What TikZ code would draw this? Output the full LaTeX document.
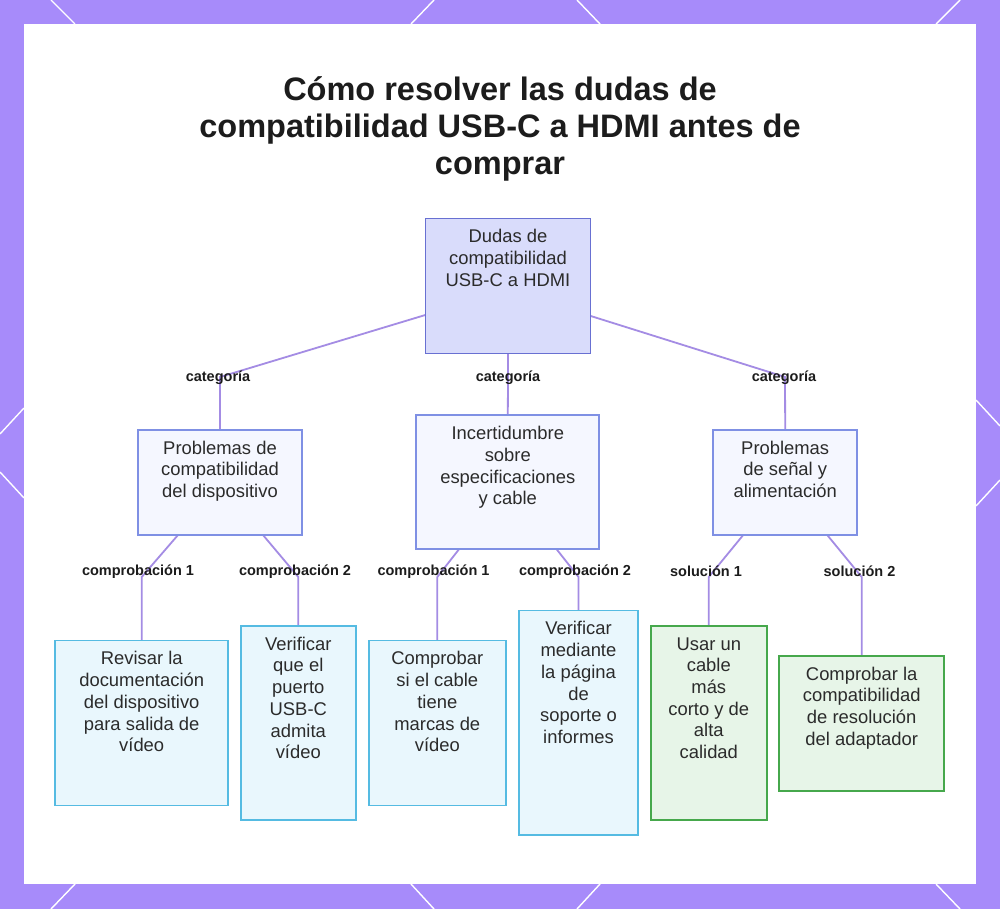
\documentclass[tikz,border=0pt]{standalone}
\usepackage{fontspec}
\setmainfont{Liberation Sans}
\usetikzlibrary{calc}
\definecolor{purp}{HTML}{A78BFA}
\definecolor{rootfill}{HTML}{D9DCFB}
\definecolor{rootdraw}{HTML}{6870D2}
\definecolor{midfill}{HTML}{F5F7FF}
\definecolor{middraw}{HTML}{7F90E4}
\definecolor{cyanfill}{HTML}{E9F7FD}
\definecolor{cyandraw}{HTML}{55BBE2}
\definecolor{greenfill}{HTML}{E7F5E8}
\definecolor{greendraw}{HTML}{46A84C}
\definecolor{linec}{HTML}{A48CE4}
\definecolor{textc}{HTML}{2B2B2B}
\definecolor{labc}{HTML}{1C1C1C}
\begin{document}
\begin{tikzpicture}[x=1pt,y=-1pt,
  box/.style={draw, line width=1.9pt, inner sep=0pt},
  rootbox/.style={box, fill=rootfill, draw=rootdraw},
  midbox/.style={box, fill=midfill, draw=middraw},
  cyanbox/.style={box, fill=cyanfill, draw=cyandraw},
  greenbox/.style={box, fill=greenfill, draw=greendraw},
  txt/.style={inner sep=0pt, align=center, anchor=north, text=textc,
    font=\fontsize{18.4}{21.7}\selectfont},
  lab/.style={inner sep=0pt, text=labc, font=\bfseries\fontsize{14.5}{17}\selectfont},
  conn/.style={draw=linec, line width=1.8pt},
  deco/.style={draw=white, line width=1.4pt},
  titlestyle/.style={inner sep=0pt, align=center, text=labc,
    font=\bfseries\fontsize{32.5}{37}\selectfont}
]
\useasboundingbox (0,0) rectangle (1000,909);
\fill[purp] (0,0) rectangle (1000,909);
% decorative lines on the border
\draw[deco] (51,0) -- (75,24);   \draw[deco] (434,0) -- (411,24);
\draw[deco] (577,0) -- (600,24); \draw[deco] (960,0) -- (936,24);
\draw[deco] (51,909) -- (75,884);   \draw[deco] (434,909) -- (411,884);
\draw[deco] (577,909) -- (600,884); \draw[deco] (960,909) -- (936,884);
\draw[deco] (0,434) -- (24,408); \draw[deco] (0,472) -- (24,498);
\draw[deco] (976,400) -- (1000,426); \draw[deco] (1000,480) -- (976,506);
\fill[white] (24,24) rectangle (976,884);

% title
\node[titlestyle] (title) at (500,128.5) {Cómo resolver las dudas de\\compatibilidad USB-C a HDMI antes de\\comprar};

% corner points of the connectors
\coordinate (kA) at (220,377);
\coordinate (kB) at (508,377);
\coordinate (kC) at (785,377);
\coordinate (kA1) at (141.7,577);
\coordinate (kA2) at (298.3,577);
\coordinate (kB1) at (437.3,577);
\coordinate (kB2) at (578.5,577);
\coordinate (kC1) at (708.8,577);
\coordinate (kC2) at (861.7,577);

% box shapes (named, used as connector ends)
\path (508,286) node[minimum width=165pt, minimum height=135pt, inner sep=0pt] (root) {};
\path (220,482.3) node[minimum width=164pt, minimum height=105pt, inner sep=0pt] (A) {};
\path (507.8,482.3) node[minimum width=183pt, minimum height=134pt, inner sep=0pt] (B) {};
\path (785.2,482.3) node[minimum width=144pt, minimum height=105pt, inner sep=0pt] (C) {};
\path (141.7,723) node[minimum width=173pt, minimum height=165pt, inner sep=0pt] (A1) {};
\path (298.3,723) node[minimum width=115.5pt, minimum height=194.5pt, inner sep=0pt] (A2) {};
\path (437.3,723) node[minimum width=137.5pt, minimum height=165pt, inner sep=0pt] (B1) {};
\path (578.5,722.7) node[minimum width=119.5pt, minimum height=224.5pt, inner sep=0pt] (B2) {};
\path (708.8,722.8) node[minimum width=115.5pt, minimum height=194.5pt, inner sep=0pt] (C1) {};
\path (861.7,723.3) node[minimum width=165pt, minimum height=135pt, inner sep=0pt] (C2) {};

% connectors
\path[conn] ([yshift=-29pt]root.west) -- (kA) -- (A.north);
\path[conn] (root.south) -- (kB) -- (B.north);
\path[conn] ([yshift=-30pt]root.east) -- (kC) -- (C.north);
\path[conn] ([xshift=-42pt]A.south) -- (kA1) -- (A1.north);
\path[conn] ([xshift=43pt]A.south) -- (kA2) -- (A2.north);
\path[conn] ([xshift=-49pt]B.south) -- (kB1) -- (B1.north);
\path[conn] ([xshift=49pt]B.south) -- (kB2) -- (B2.north);
\path[conn] ([xshift=-42pt]C.south) -- (kC1) -- (C1.north);
\path[conn] ([xshift=42pt]C.south) -- (kC2) -- (C2.north);

% visible boxes over the connector ends
\node[rootbox, minimum width=165pt, minimum height=135pt] (rootb) at (root) {};
\node[midbox, minimum width=164pt, minimum height=105pt] (Ab) at (A) {};
\node[midbox, minimum width=183pt, minimum height=134pt] (Bb) at (B) {};
\node[midbox, minimum width=144pt, minimum height=105pt] (Cb) at (C) {};
\node[cyanbox, minimum width=173pt, minimum height=165pt] (A1b) at (A1) {};
\node[cyanbox, minimum width=115.5pt, minimum height=194.5pt] (A2b) at (A2) {};
\node[cyanbox, minimum width=137.5pt, minimum height=165pt] (B1b) at (B1) {};
\node[cyanbox, minimum width=119.5pt, minimum height=224.5pt] (B2b) at (B2) {};
\node[greenbox, minimum width=115.5pt, minimum height=194.5pt] (C1b) at (C1) {};
\node[greenbox, minimum width=165pt, minimum height=135pt] (C2b) at (C2) {};

% box texts
\node[txt] (troot) at ([yshift=-9.3pt]root.north) {\strut Dudas de\\compatibilidad\\USB-C a HDMI};
\node[txt] (tA) at ([yshift=-9.3pt]A.north) {\strut Problemas de\\compatibilidad\\del dispositivo};
\node[txt] (tB) at ([yshift=-9.3pt]B.north) {\strut Incertidumbre\\sobre\\especificaciones\\y cable};
\node[txt] (tC) at ([yshift=-9.3pt]C.north) {\strut Problemas\\de señal y\\alimentación};
\node[txt] (tA1) at ([yshift=-9.3pt]A1.north) {\strut Revisar la\\documentación\\del dispositivo\\para salida de\\vídeo};
\node[txt] (tA2) at ([yshift=-9.3pt]A2.north) {\strut Verificar\\que el\\puerto\\USB-C\\admita\\vídeo};
\node[txt] (tB1) at ([yshift=-9.3pt]B1.north) {\strut Comprobar\\si el cable\\tiene\\marcas de\\vídeo};
\node[txt] (tB2) at ([yshift=-9.3pt]B2.north) {\strut Verificar\\mediante\\la página\\de\\soporte o\\informes};
\node[txt] (tC1) at ([yshift=-9.3pt]C1.north) {\strut Usar un\\cable\\más\\corto y de\\alta\\calidad};
\node[txt] (tC2) at ([yshift=-9.3pt]C2.north) {\strut Comprobar la\\compatibilidad\\de resolución\\del adaptador};

% connector labels
\node[lab] (lA) at (218,377.5) {categoría};
\node[lab] (lB) at (508,377.5) {categoría};
\node[lab] (lC) at (784,377.5) {categoría};
\node[lab] (lA1) at (138,571.5) {comprobación 1};
\node[lab] (lA2) at (295,571.5) {comprobación 2};
\node[lab] (lB1) at (433.5,571.5) {comprobación 1};
\node[lab] (lB2) at (575,571.5) {comprobación 2};
\node[lab] (lC1) at (706,571.5) {solución 1};
\node[lab] (lC2) at (859.5,571.5) {solución 2};
\end{tikzpicture}
\end{document}
